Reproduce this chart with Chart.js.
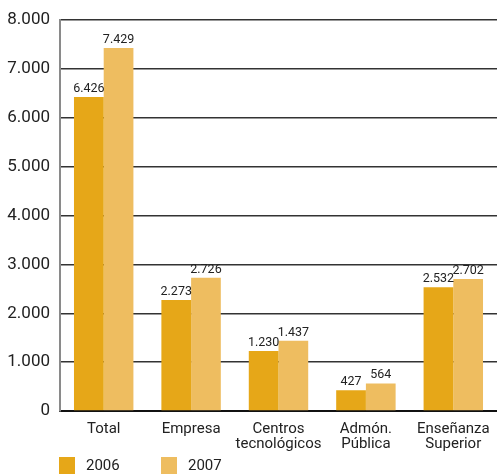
<!DOCTYPE html>
<html>
<head>
<meta charset="utf-8">
<script src="https://cdn.jsdelivr.net/npm/chart.js@4"></script>
<style>
  html, body { margin: 0; padding: 0; background: #fff; }
  #wrap { width: 497px; height: 475px; }
</style>
</head>
<body>
<div id="wrap"><canvas id="chart" width="497" height="475"></canvas></div>
<script>
//data
const categories = ['Total', 'Empresa', ['Centros', 'tecnológicos'], ['Admón.', 'Pública'], ['Enseñanza', 'Superior']];
const values2006 = [6426, 2273, 1230, 427, 2532];
const values2007 = [7429, 2726, 1437, 564, 2702];
const seriesNames = ['2006', '2007'];
const seriesColors = ['#E6A718', '#EEBD60'];
const yTicks = [0, 1000, 2000, 3000, 4000, 5000, 6000, 7000, 8000];

const FONT = 'Roboto, "Liberation Sans", sans-serif';

//thousands separator with a dot
function fmt(v) {
  return String(v).replace(/\B(?=(\d{3})+(?!\d))/g, '.');
}

//values above bars
const valueLabels = {
  id: 'valueLabels',
  afterDatasetsDraw(chart) {
    const ctx = chart.ctx;
    ctx.save();
    ctx.font = '12.5px ' + FONT;
    ctx.fillStyle = '#222';
    ctx.textAlign = 'center';
    ctx.textBaseline = 'bottom';
    chart.data.datasets.forEach((ds, i) => {
      chart.getDatasetMeta(i).data.forEach((bar, j) => {
        ctx.fillText(fmt(ds.data[j]), bar.x, bar.y - 2);
      });
    });
    ctx.restore();
  }
};

//legend under the axis labels
const bottomLegend = {
  id: 'bottomLegend',
  afterDraw(chart) {
    const ctx = chart.ctx;
    const left = chart.chartArea.left - 1;
    const top = chart.height - 18;
    ctx.save();
    ctx.font = '15px ' + FONT;
    ctx.textBaseline = 'middle';
    ctx.textAlign = 'left';
    chart.data.datasets.forEach((ds, i) => {
      const x = left + i * 102;
      ctx.fillStyle = ds.backgroundColor;
      ctx.fillRect(x, top, 16, 17);
      ctx.fillStyle = '#222';
      ctx.fillText(ds.label, x + 27, top + 9);
    });
    ctx.restore();
  }
};

new Chart(document.getElementById('chart'), {
  type: 'bar',
  data: {
    labels: categories,
    datasets: [
      { label: seriesNames[0], data: values2006, backgroundColor: seriesColors[0] },
      { label: seriesNames[1], data: values2007, backgroundColor: seriesColors[1] }
    ]
  },
  options: {
    responsive: false,
    animation: false,
    devicePixelRatio: 1,
    layout: { padding: { top: 19, right: 0, bottom: 0, left: 0 } },
    datasets: { bar: { barPercentage: 1, categoryPercentage: 0.68 } },
    plugins: { legend: { display: false }, tooltip: { enabled: false } },
    scales: {
      x: {
        grid: { display: false },
        border: { color: '#111', width: 2 },
        ticks: { color: '#222', font: { family: FONT, size: 15, lineHeight: 1.05 }, padding: 2, maxRotation: 0, autoSkip: false },
        afterFit(scale) { scale.height = 64; }
      },
      y: {
        min: 0,
        max: 8000,
        afterBuildTicks(scale) { scale.ticks = yTicks.map(v => ({ value: v })); },
        grid: { color: '#333', lineWidth: 1.5, drawTicks: false },
        border: { color: '#8a8a8a', width: 2 },
        ticks: { color: '#222', font: { family: FONT, size: 17 }, padding: 10, callback: v => fmt(v) },
        afterFit(scale) { scale.width = 60; }
      }
    }
  },
  plugins: [valueLabels, bottomLegend]
});
</script>
</body>
</html>
